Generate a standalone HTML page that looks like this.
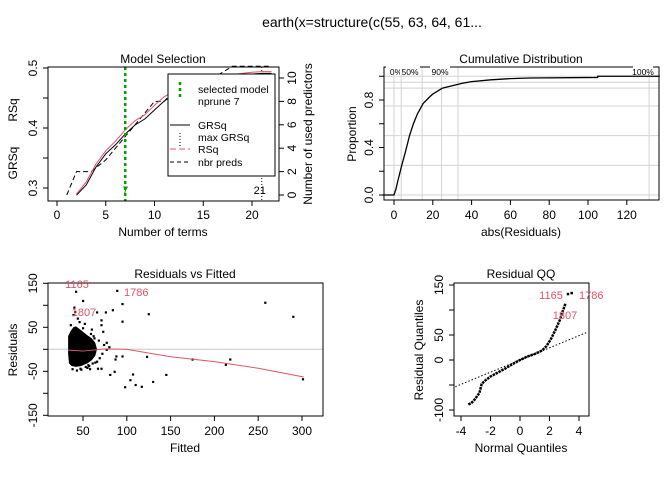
<!DOCTYPE html>
<html><head><meta charset="utf-8"><style>
body{margin:0;background:#fff}
svg{display:block;font-family:"Liberation Sans",sans-serif}
</style></head><body>
<svg id="s" width="672" height="480" viewBox="0 0 672 480">
<text x="372" y="27" font-size="14" text-anchor="middle">earth(x=structure(c(55, 63, 64, 61...</text>
</svg>
<script>
// ---- data ----
const msTerms=[2,3,4,5,6,7,8,9,10,11,12,13,14,15,16,17,18,19,20,21,22];
const msGRSq=[0.288,0.305,0.335,0.357,0.372,0.39,0.405,0.415,0.43,0.445,0.455,0.462,0.468,0.473,0.477,0.481,0.485,0.488,0.49,0.491,0.491];
const msRSq=[0.29,0.31,0.34,0.362,0.378,0.397,0.412,0.422,0.438,0.452,0.462,0.469,0.475,0.479,0.483,0.486,0.489,0.491,0.493,0.494,0.494];
const msPredTerms=[1,2,3,3.5,5,6,7,8,9,10,11,12,14,16,18,22];
const msPreds=[0,2,2,2,3,4,5,6,7,8,8,9,9,10,11,11];
const cdfX=[-6,0,1,2,4,6,8,10,12,15,18,20,25,30,35,40,50,60,70,105,105,132,137];
const cdfY=[0,0,0.05,0.12,0.25,0.37,0.5,0.6,0.68,0.77,0.82,0.85,0.9,0.92,0.94,0.955,0.97,0.98,0.985,0.99,1,1,1];
const rvfX=[42,89,50,95,258,290,125,84,95,66,76,123,175,218,213,145,130,107,104,110,98,117,301,81,86,87,88,95,71,67,77,77,71,71,60,62,58,55,64,68,52,57,73,80,40,41,39,44,46,36,38,43,47,53,56,61,66,69,72,74,63,59,50,48];
const rvfY=[131,133,110,103,106,74,80,89,63,84,84,-17,-23,-23,-35,-58,-74,-57,-70,-81,-86,-85,-68,-58,-51,-23,-16,-16,-44,-44,-1,15,66,55,45,30,-45,-42,-30,20,58,-38,40,5,95,85,78,70,62,55,-45,-48,-44,-40,-36,-32,-28,-20,-10,10,25,35,48,-46];
const rvfBlobX=[33,36,39,42,46,50,55,60,64,66,64,60,55,48,42,37,34,33];
const rvfBlobY=[30,42,50,52,46,40,32,25,15,0,-15,-25,-32,-38,-40,-38,-32,-10];
const smoothX=[33,50,75,100,150,200,250,302];
const smoothY=[-2,-4,1,0,-17,-28,-43,-63];
const qqX=[-3.5,-3.3,-3.1,-2.9,-2.75,-2.6,-2.4,-2,-1.5,-1,-0.5,0,0.5,1,1.5,1.8,2.1,2.4,2.7,2.9,3.1];
const qqY=[-89,-86,-80,-72,-66,-48,-42,-33,-25,-17,-8,0,7,12,19,28,42,60,80,98,114];
const qqOutX=[3.25,3.5];
const qqOutY=[132,134];
const qqLineX=[-4.6,4.6];
const qqLineY=[-56,56];

const svg=document.getElementById('s');
const NS='http://www.w3.org/2000/svg';
function el(tag,attrs,parent){const e=document.createElementNS(NS,tag);for(const k in attrs)e.setAttribute(k,attrs[k]);(parent||svg).appendChild(e);return e;}
function txt(x,y,s,size,anchor,rot,fill,parent){const t=el('text',{x:x,y:y,'font-size':size,'text-anchor':anchor||'middle',fill:fill||'#000'},parent);if(rot)t.setAttribute('transform','rotate(-90 '+x+' '+y+')');t.textContent=s;return t;}
function poly(xs,ys,sx,sy,attrs,parent){return el('polyline',Object.assign({points:xs.map((v,i)=>sx(v)+','+sy(ys[i])).join(' '),fill:'none'},attrs),parent);}

// ---- Panel 1: Model Selection ----
const g1=el('g',{});
const x1=v=>57+v*9.75, y1=v=>188-(v-0.3)*600, r1=v=>195-v*11.7;
txt(163,63,'Model Selection',12,'middle',0,null,g1);
[0,5,10,15,20].forEach(v=>{el('line',{x1:x1(v),x2:x1(v),y1:201,y2:206,stroke:'#000'},g1);txt(x1(v),219,String(v),12,'middle',0,null,g1);});
el('line',{x1:x1(0),x2:x1(20),y1:201,y2:201,stroke:'#000'},g1);
[0.3,0.4,0.5].forEach(v=>{el('line',{x1:43,x2:48,y1:y1(v),y2:y1(v),stroke:'#000'},g1);txt(37,y1(v),String(v),12,'middle',1,null,g1);});
[0.35,0.45].forEach(v=>el('line',{x1:43,x2:48,y1:y1(v),y2:y1(v),stroke:'#000'},g1));
[0,2,4,6,8,10].forEach(v=>{el('line',{x1:279,x2:284,y1:r1(v),y2:r1(v),stroke:'#000'},g1);txt(296,r1(v),String(v),12,'middle',1,null,g1);});
txt(17,163,'GRSq',12,'middle',1,null,g1);
txt(17,110,'RSq',12,'middle',1,null,g1);
txt(312,134,'Number of used predictors',12,'middle',1,null,g1);
txt(163,236,'Number of terms',12,'middle',0,null,g1);
poly(msPredTerms,msPreds,x1,r1,{stroke:'#000','stroke-dasharray':'5,3'},g1);
poly(msTerms,msRSq,x1,y1,{stroke:'#DF536B'},g1);
poly(msTerms,msGRSq,x1,y1,{stroke:'#000'},g1);
el('line',{x1:x1(21),x2:x1(21),y1:67,y2:201,stroke:'#000','stroke-dasharray':'1,2'},g1);
el('line',{x1:x1(7),x2:x1(7),y1:67,y2:201,stroke:'#00A000','stroke-width':2.5,'stroke-dasharray':'3,3'},g1);
txt(x1(7),194,'7',11,'middle',0,'#00A000',g1);
txt(x1(21)-2,194,'21',11,'middle',0,null,g1);
el('rect',{x:48,y:67,width:231,height:134,fill:'none',stroke:'#000'},g1);
const lg=el('g',{},g1);
el('rect',{x:168,y:74,width:107,height:102,fill:'#fff',stroke:'#000'},lg);
el('line',{x1:180,x2:180,y1:82,y2:97,stroke:'#00A000','stroke-width':2.5,'stroke-dasharray':'3,3'},lg);
txt(198,93,'selected model',10.5,'start',0,null,lg);txt(198,105,'nprune 7',10.5,'start',0,null,lg);
el('line',{x1:170,x2:190,y1:125,y2:125,stroke:'#000'},lg);txt(198,129,'GRSq',10.5,'start',0,null,lg);
el('line',{x1:180,x2:180,y1:133,y2:147,stroke:'#000','stroke-dasharray':'1,2'},lg);txt(198,141,'max GRSq',10.5,'start',0,null,lg);
el('line',{x1:170,x2:190,y1:149,y2:149,stroke:'#DF536B','stroke-dasharray':'6,3'},lg);txt(198,153,'RSq',10.5,'start',0,null,lg);
el('line',{x1:170,x2:190,y1:162,y2:162,stroke:'#000','stroke-dasharray':'4,3'},lg);txt(198,166,'nbr preds',10.5,'start',0,null,lg);

// ---- Panel 2: Cumulative Distribution ----
const g2=el('g',{});
const x2=v=>394+v*1.94, y2=v=>195-v*118.75;
[0,0.25,0.5,0.75,0.9,0.95,1].forEach(v=>el('line',{x1:384,x2:659,y1:y2(v),y2:y2(v),stroke:'#d3d3d3'},g2));
[0,3.7,14.5,24.5,33,131.5].forEach(v=>el('line',{x1:x2(v),x2:x2(v),y1:67,y2:200,stroke:'#d3d3d3'},g2));
el('rect',{x:384,y:67,width:275,height:133,fill:'none',stroke:'#000'},g2);
[['0%',396],['50%',410],['90%',440],['100%',643]].forEach(a=>{el('rect',{x:a[1]-10,y:66,width:20,height:9,fill:'#fff'},g2);txt(a[1],75,a[0],8.5,'middle',0,null,g2);});
txt(521,63,'Cumulative Distribution',12,'middle',0,null,g2);
[0,20,40,60,80,100,120].forEach(v=>{el('line',{x1:x2(v),x2:x2(v),y1:200,y2:205,stroke:'#000'},g2);txt(x2(v),219,String(v),12,'middle',0,null,g2);});
el('line',{x1:x2(0),x2:x2(120),y1:200,y2:200,stroke:'#000'},g2);
[[0,'0.0'],[0.4,'0.4'],[0.8,'0.8']].forEach(a=>{el('line',{x1:379,x2:384,y1:y2(a[0]),y2:y2(a[0]),stroke:'#000'},g2);txt(373,y2(a[0]),a[1],12,'middle',1,null,g2);});
[0.2,0.6,1.0].forEach(v=>el('line',{x1:379,x2:384,y1:y2(v),y2:y2(v),stroke:'#000'},g2));
txt(356,134,'Proportion',12,'middle',1,null,g2);
txt(521,236,'abs(Residuals)',12,'middle',0,null,g2);
poly(cdfX,cdfY,x2,y2,{stroke:'#000','stroke-width':1.3},g2);

// ---- Panel 3: Residuals vs Fitted ----
const g3=el('g',{});
const x3=v=>83+(v-50)*0.876, y3=v=>349.3-v*0.44;
el('line',{x1:48,x2:323,y1:y3(0),y2:y3(0),stroke:'#c8c8c8'},g3);
el('rect',{x:48,y:283,width:275,height:133,fill:'none',stroke:'#000'},g3);
txt(185,278,'Residuals vs Fitted',12,'middle',0,null,g3);
[50,100,150,200,250,300].forEach(v=>{el('line',{x1:x3(v),x2:x3(v),y1:416,y2:421,stroke:'#000'},g3);txt(x3(v),435,String(v),12,'middle',0,null,g3);});
el('line',{x1:x3(50),x2:x3(300),y1:416,y2:416,stroke:'#000'},g3);
[[150,'150'],[50,'50'],[-50,'-50'],[-150,'-150']].forEach(a=>{el('line',{x1:43,x2:48,y1:y3(a[0]),y2:y3(a[0]),stroke:'#000'},g3);txt(37,y3(a[0]),a[1],12,'middle',1,null,g3);});
[100,0,-100].forEach(v=>el('line',{x1:43,x2:48,y1:y3(v),y2:y3(v),stroke:'#000'},g3));
txt(17,350,'Residuals',12,'middle',1,null,g3);
txt(185,452,'Fitted',12,'middle',0,null,g3);
el('polygon',{points:rvfBlobX.map((v,i)=>x3(v)+','+y3(rvfBlobY[i])).join(' '),fill:'#000'},g3);
rvfX.forEach((v,i)=>{const r=el('rect',{x:x3(v)-1,y:y3(rvfY[i])-1,width:2.2,height:2.2,fill:'#000'},g3);});
poly(smoothX,smoothY,x3,y3,{stroke:'#DF536B'},g3);
txt(77,288,'1165',11,'middle',0,'#DF536B',g3);
txt(124,296,'1786',11,'start',0,'#DF536B',g3);
txt(84,316,'1807',11,'middle',0,'#DF536B',g3);

// ---- Panel 4: Residual QQ ----
const g4=el('g',{});
const x4=v=>520+v*14.75, y4=v=>360-v*0.5;
el('rect',{x:454,y:283,width:135,height:133,fill:'none',stroke:'#000'},g4);
txt(521,278,'Residual QQ',12,'middle',0,null,g4);
[-4,-2,0,2,4].forEach(v=>{el('line',{x1:x4(v),x2:x4(v),y1:416,y2:421,stroke:'#000'},g4);txt(x4(v),435,String(v),12,'middle',0,null,g4);});
el('line',{x1:x4(-4),x2:x4(4),y1:416,y2:416,stroke:'#000'},g4);
[[150,'150'],[50,'50'],[0,'0'],[-100,'-100']].forEach(a=>{el('line',{x1:449,x2:454,y1:y4(a[0]),y2:y4(a[0]),stroke:'#000'},g4);txt(443,y4(a[0]),a[1],12,'middle',1,null,g4);});
[100,-50].forEach(v=>el('line',{x1:449,x2:454,y1:y4(v),y2:y4(v),stroke:'#000'},g4));
txt(423,350,'Residual Quantiles',12,'middle',1,null,g4);
txt(521,452,'Normal Quantiles',12,'middle',0,null,g4);
const clip=el('clipPath',{id:'c4'},g4);el('rect',{x:454,y:283,width:135,height:133},clip);
poly(qqLineX,qqLineY,x4,y4,{stroke:'#000','stroke-dasharray':'1.5,2','clip-path':'url(#c4)'},g4);
poly(qqX,qqY,x4,y4,{stroke:'#000','stroke-width':2.5,'stroke-dasharray':'2.5,0.8'},g4);
qqOutX.forEach((v,i)=>{const r=el('rect',{x:x4(v)-1.2,y:y4(qqOutY[i])-1.2,width:2.5,height:2.5,fill:'#000'},g4);});
txt(551,299,'1165',11,'middle',0,'#DF536B',g4);
txt(579,299,'1786',11,'start',0,'#DF536B',g4);
txt(565,319,'1807',11,'middle',0,'#DF536B',g4);
</script>
</body></html>
